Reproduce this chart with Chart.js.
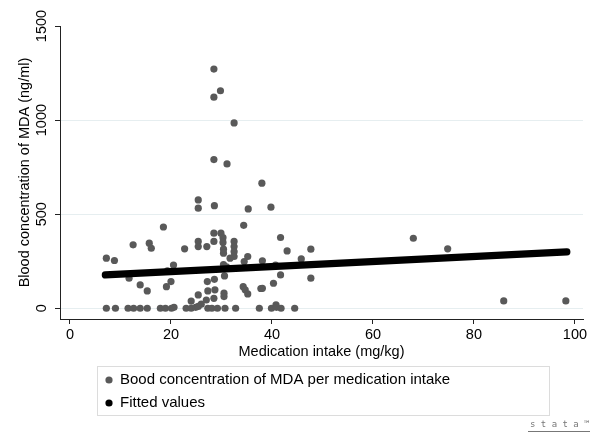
<!DOCTYPE html>
<html>
<head>
<meta charset="utf-8">
<script src="https://cdn.jsdelivr.net/npm/chart.js@4"></script>
<style>
  body { margin: 0; background: #fff; }
  #wrap { width: 600px; height: 437px; }
</style>
</head>
<body>
<div id="wrap"><canvas id="chart" width="600" height="437"></canvas></div>
<script>
// values
const intake = [
    28.5, 29.8, 28.5, 32.5, 28.5, 31.1, 38.0, 25.4, 25.4, 28.6, 35.3, 39.8, 34.4, 18.5,
    28.5, 29.9, 28.5, 30.3, 30.3, 25.4, 25.4, 27.1, 32.5, 32.5, 32.5, 32.5, 30.4, 30.4,
    12.5, 15.7, 16.1, 22.7, 41.7, 43.0, 47.7, 7.2, 8.8, 35.2, 34.5, 45.8, 38.1, 40.7,
    31.7, 30.4, 31.0, 20.5,
    19.3, 11.7, 13.9, 15.3, 20.0, 19.1, 27.2, 28.6, 30.6, 27.3, 28.7, 25.4, 27.0, 28.5,
    30.5, 30.5, 34.3, 34.7, 35.2, 37.8, 41.7, 47.7, 40.3, 38.1, 24.0, 26.0, 40.8,
    7.2, 9.0, 11.5, 12.6, 13.9, 15.3, 17.9, 18.9, 20.1, 20.6, 23.0, 24.0, 24.9, 25.4,
    27.3, 28.1, 29.2, 30.7, 32.8, 37.5, 39.9, 40.9, 41.8, 44.5,
    68.0, 74.8, 85.9, 98.2
];
const mdaConc = [
    1271, 1156, 1122, 985, 790, 767, 665, 576, 532, 545, 528, 537, 441, 432,
    399, 399, 355, 375, 350, 355, 328, 328, 355, 328, 301, 275, 314, 293,
    337, 346, 319, 316, 376, 305, 314, 266, 254, 275, 248, 262, 252, 230,
    266, 232, 220, 230,
    199, 160, 124, 92, 142, 115, 142, 154, 172, 92, 98, 71, 44, 53,
    80, 62, 115, 98, 76, 105, 177, 160, 133, 106, 38, 22, 18,
    0, 0, 0, 0, 0, 0, 0, 0, 0, 5, 0, 0, 5, 10,
    0, 0, 0, 0, 0, 0, 0, 5, 0, 0,
    372, 316, 39, 39
];
const fitX = [7.0, 98.4];
const fitY = [177, 300];
const xTicks = [0, 20, 40, 60, 80, 100];
const yTicks = [0, 500, 1000, 1500];
const seriesNames = ['Bood concentration of MDA per medication intake', 'Fitted values'];
const seriesColors = ['#595959', '#000000'];

const FONT = 'Liberation Sans, Arial, Helvetica, sans-serif';

const stataDecor = {
    id: 'stataDecor',
    afterDraw(chart) {
        const ctx = chart.ctx;
        const yScale = chart.scales.y;
        ctx.save();
        ctx.fillStyle = '#000';
        ctx.font = '14.5px ' + FONT;
        ctx.textAlign = 'center';
        ctx.textBaseline = 'middle';
        yTicks.forEach(function (v) {
            const py = yScale.getPixelForValue(v);
            ctx.save();
            ctx.translate(42, py);
            ctx.rotate(-Math.PI / 2);
            ctx.fillText(String(v), 0, 0);
            ctx.restore();
        });

        // legend box
        ctx.strokeStyle = '#dcdcdc';
        ctx.lineWidth = 1;
        ctx.strokeRect(97.5, 366.5, 452, 49);
        ctx.textAlign = 'left';
        ctx.font = '15px ' + FONT;
        seriesNames.forEach(function (name, i) {
            const y = 380 + i * 23;
            ctx.fillStyle = seriesColors[i];
            ctx.beginPath();
            ctx.arc(109, y, 3.6, 0, Math.PI * 2);
            ctx.fill();
            ctx.fillStyle = '#000';
            ctx.fillText(name, 120, y);
        });

        // stata logo
        ctx.fillStyle = '#777';
        ctx.font = '9px DejaVu Sans Mono, monospace';
        ctx.textAlign = 'left';
        ctx.fillText('s t a t a \u2122', 530, 425);
        ctx.fillRect(528, 431, 62, 1);
        ctx.restore();
    }
};

new Chart(document.getElementById('chart'), {
    type: 'scatter',
    data: {
        datasets: [{
            label: seriesNames[0],
            data: intake.map(function (x, i) { return { x: x, y: mdaConc[i] }; }),
            backgroundColor: seriesColors[0],
            borderWidth: 0,
            pointRadius: 3.6,
            order: 2
        }, {
            type: 'line',
            label: seriesNames[1],
            data: fitX.map(function (x, i) { return { x: x, y: fitY[i] }; }),
            borderColor: seriesColors[1],
            borderWidth: 7.2,
            borderCapStyle: 'round',
            pointRadius: 0,
            order: 1
        }]
    },
    options: {
        responsive: false,
        animation: false,
        devicePixelRatio: 1,
        layout: { padding: { left: 0, right: 17, top: 26, bottom: 70 } },
        plugins: {
            legend: { display: false },
            tooltip: { enabled: false }
        },
        scales: {
            x: {
                type: 'linear',
                min: -1.98,
                max: 101.6,
                afterBuildTicks: function (scale) {
                    scale.ticks = xTicks.map(function (v) { return { value: v }; });
                },
                afterFit: function (scale) { scale.height = 48; },
                border: { display: true, color: '#222', width: 1 },
                grid: { drawOnChartArea: false, drawTicks: true, tickLength: 5, tickColor: '#222' },
                ticks: { color: '#000', font: { family: FONT, size: 14.5 }, padding: 2, maxRotation: 0 },
                title: {
                    display: true,
                    text: 'Medication intake (mg/kg)',
                    color: '#000',
                    font: { family: FONT, size: 14.5 },
                    padding: { top: 0, bottom: 6 }
                }
            },
            y: {
                type: 'linear',
                min: -57,
                max: 1500,
                afterBuildTicks: function (scale) {
                    scale.ticks = yTicks.map(function (v) { return { value: v }; });
                },
                afterFit: function (scale) { scale.width = 60; },
                border: { display: true, color: '#222', width: 1 },
                grid: {
                    drawTicks: true,
                    tickLength: 5,
                    tickColor: '#222',
                    color: function (c) {
                        return c.tick && c.tick.value === 1500 ? 'rgba(0,0,0,0)' : '#e6eef0';
                    }
                },
                ticks: { display: false },
                title: {
                    display: true,
                    text: 'Blood concentration of MDA (ng/ml)',
                    color: '#000',
                    font: { family: FONT, size: 14.5 },
                    padding: { top: 16, bottom: 0 }
                }
            }
        }
    },
    plugins: [stataDecor]
});
</script>
</body>
</html>
